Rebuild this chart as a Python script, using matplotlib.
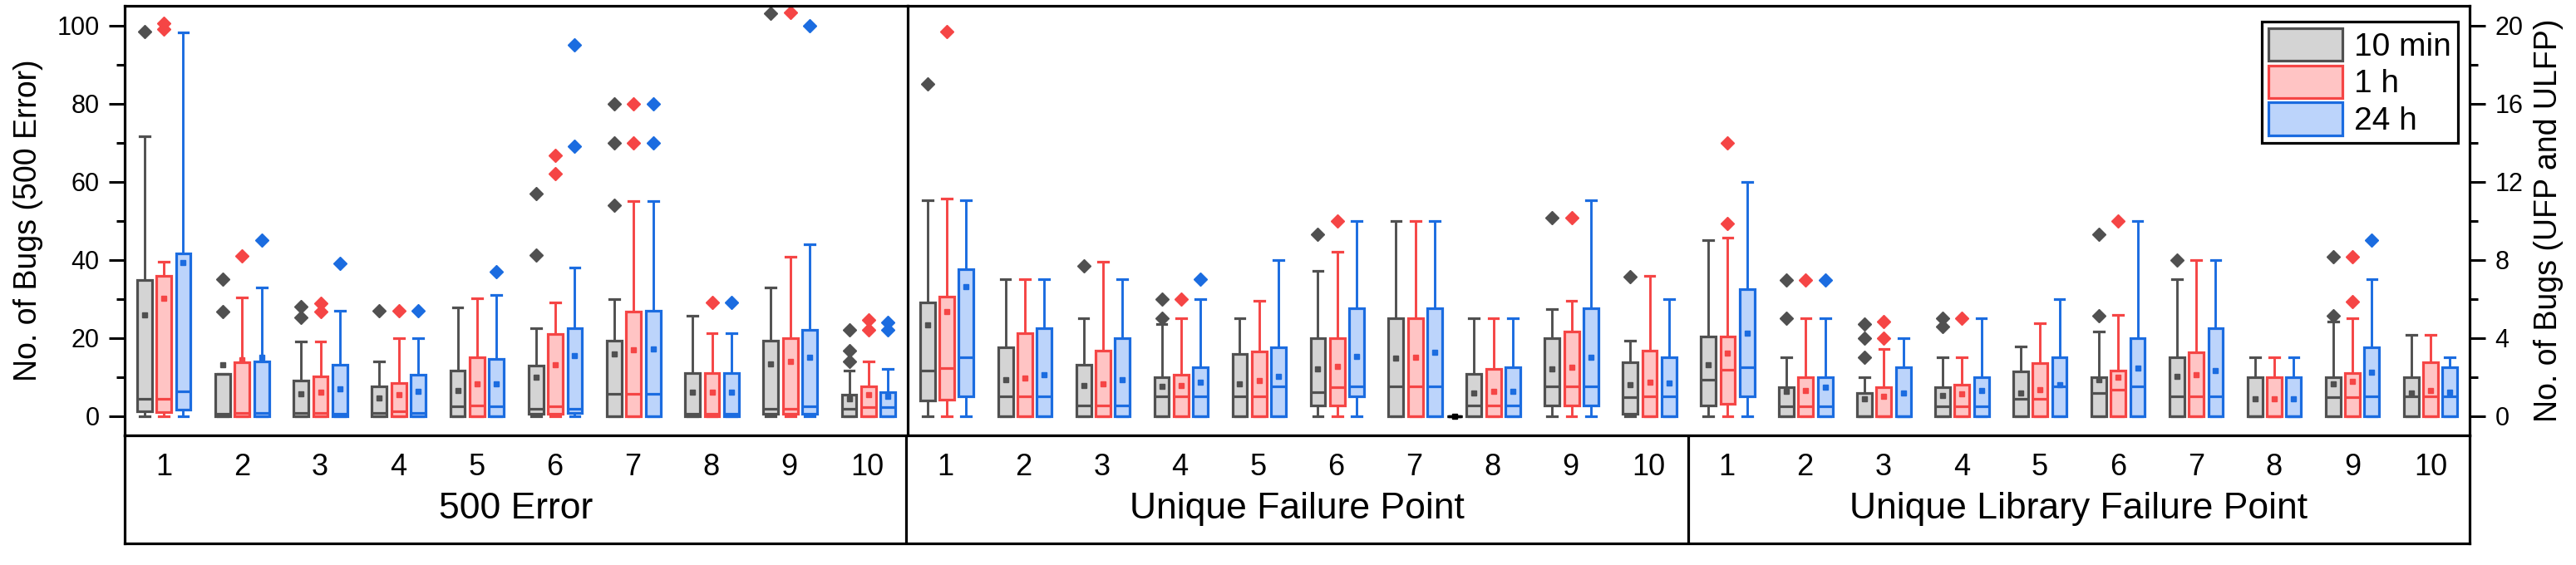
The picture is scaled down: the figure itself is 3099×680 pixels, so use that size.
import numpy as np
import matplotlib.pyplot as plt
from matplotlib.patches import Patch
from matplotlib.ticker import MultipleLocator

# fuente tipo Arial
plt.rcParams['font.family'] = ['Liberation Sans', 'DejaVu Sans']

# nombres de las series y colores (borde, relleno)
series_names = ['10 min', '1 h', '24 h']
edge_colors = ['#505050', '#f54545', '#1b6ce0']
fill_colors = ['#d4d4d4', '#ffc4c4', '#bcd4fb']

panel_names = ['500 Error', 'Unique Failure Point', 'Unique Library Failure Point']
group_labels = [str(i) for i in range(1, 11)]

# cada fila: whislo, q1, mediana, q3, whishi, media
err_gray = [[0, 1.2, 4.4, 34.7, 71.7, 25.9], [0, 0, 0.5, 10.8, 10.8, 13.1], [0, 0, 0.8, 9.0, 19.1, 5.6],
            [0, 0, 0.8, 7.6, 14.0, 4.5], [0, 0, 2.4, 11.5, 27.7, 6.5], [0, 0.5, 1.9, 12.9, 22.5, 9.9],
            [0, 0, 5.7, 19.2, 29.9, 15.9], [0, 0, 0.5, 11.0, 25.7, 6.0], [0, 0.5, 1.9, 19.3, 32.9, 13.4],
            [0, 0, 1.9, 5.5, 11.5, 4.4]]
err_red = [[0, 1.0, 4.4, 35.8, 39.5, 30.1], [0, 0, 0.85, 13.8, 30.4, 14.3], [0, 0, 0.85, 10.1, 19.1, 6.0],
           [0, 0, 1.2, 8.4, 19.9, 5.5], [0, 0, 2.6, 15.0, 30.2, 8.2], [0, 0.5, 2.4, 20.9, 29.1, 13.1],
           [0, 0, 5.7, 26.8, 55.1, 17.0], [0, 0, 0.5, 11.0, 21.1, 6.0], [0, 0.5, 1.9, 20.0, 40.8, 14.0],
           [0, 0, 2.3, 7.6, 14.0, 5.5]]
err_blue = [[0, 1.7, 6.2, 41.7, 98.1, 39.3], [0, 0, 0.85, 14.0, 32.9, 15.0], [0, 0, 0.6, 13.1, 27.0, 7.0],
            [0, 0, 0.85, 10.6, 19.9, 6.2], [0, 0, 2.4, 14.5, 31.0, 8.2], [0, 0.85, 1.9, 22.5, 38.0, 15.5],
            [0, 0, 5.7, 27.0, 55.1, 17.2], [0, 0, 0.5, 11.0, 21.1, 6.0], [0, 0.5, 2.5, 22.1, 44.0, 15.0],
            [0, 0, 2.3, 6.0, 12.1, 4.9]]
err_gray_fl = [[98.4], [35.1, 26.8], [28.0, 25.3], [26.9], [], [41.2, 56.9], [53.9, 69.9, 79.8], [], [103.0],
               [22.1, 16.6, 14.0]]
err_red_fl = [[100.5, 99.0], [41.0], [28.9, 26.8], [26.9], [], [62.0, 66.7], [69.9, 79.8], [29.0], [103.2],
              [24.6, 22.1]]
err_blue_fl = [[], [45.0], [39.0], [26.9], [36.9], [69.1, 95.0], [69.9, 79.8], [29.0], [99.9], [23.9, 22.1]]

ufp_gray = [[0, 0.78, 2.33, 5.81, 11.03, 4.67], [0, 0, 1.02, 3.5, 7.01, 1.85], [0, 0, 0.53, 2.61, 5.02, 1.55],
            [0, 0, 0.99, 1.97, 4.71, 1.49], [0, 0, 0.99, 3.15, 5.02, 1.62], [0, 0.53, 1.23, 4.0, 7.44, 2.4],
            [0, 0, 1.52, 5.02, 9.99, 2.97], [0, 0, 0.53, 2.16, 5.02, 1.19], [0, 0.53, 1.52, 4.0, 5.45, 2.4],
            [0, 0.1, 0.95, 2.73, 3.86, 1.59]]
ufp_red = [[0, 0.84, 2.44, 6.09, 11.14, 5.32], [0, 0, 1.02, 4.22, 7.01, 1.92], [0, 0, 0.53, 3.36, 7.88, 1.63],
           [0, 0, 0.99, 2.09, 5.02, 1.55], [0, 0, 0.99, 3.29, 5.88, 1.8], [0, 0.53, 1.45, 4.0, 8.4, 2.55],
           [0, 0, 1.52, 5.02, 9.99, 3.01], [0, 0, 0.53, 2.41, 5.02, 1.26], [0, 0.53, 1.52, 4.32, 5.88, 2.47],
           [0, 0, 0.99, 3.36, 7.15, 1.73]]
ufp_blue = [[0, 0.99, 3.01, 7.51, 11.03, 6.6], [0, 0, 1.02, 4.5, 7.01, 2.11], [0, 0, 0.53, 4.0, 7.01, 1.85],
            [0, 0, 0.99, 2.51, 5.99, 1.73], [0, 0, 1.52, 3.51, 7.98, 2.04], [0, 0.99, 1.52, 5.49, 9.99, 3.04],
            [0, 0, 1.52, 5.49, 9.99, 3.25], [0, 0, 0.53, 2.51, 5.02, 1.26], [0, 0.53, 1.52, 5.49, 11.03, 3.01],
            [0, 0, 0.99, 3.01, 5.99, 1.66]]
ufp_gray_fl = [[17.02], [], [7.66], [5.96, 5.02], [], [9.28], [], [], [10.13], [7.13]]
ufp_red_fl = [[19.69], [], [], [5.96], [], [9.96], [], [], [10.13], []]
ufp_blue_fl = [[], [], [], [6.98], [], [], [], [], [], []]

ulfp_gray = [[0, 0.52, 1.86, 4.06, 9.0, 2.6], [0, 0, 0.51, 1.48, 3.0, 1.25], [0, 0, 0, 1.15, 1.97, 0.87],
             [0, 0, 0.51, 1.46, 3.0, 1.05], [0, 0, 0.87, 2.29, 3.56, 1.15], [0, 0, 1.18, 2.0, 4.3, 1.83],
             [0, 0, 0.98, 3.0, 7.0, 2.04], [0, 0, 0, 2.0, 3.0, 0.87], [0, 0, 0.94, 2.0, 4.85, 1.65],
             [0, 0, 1.0, 2.0, 4.13, 1.15]]
ulfp_red = [[0, 0.61, 2.36, 4.06, 9.13, 3.2], [0, 0, 0.51, 1.97, 5.01, 1.29], [0, 0, 0, 1.48, 3.42, 0.98],
            [0, 0, 0.51, 1.58, 3.0, 1.12], [0, 0, 0.87, 2.71, 4.73, 1.33], [0, 0, 1.36, 2.31, 5.15, 1.97],
            [0, 0, 0.98, 3.24, 7.96, 2.11], [0, 0, 0, 2.0, 3.0, 0.87], [0, 0, 0.94, 2.21, 5.01, 1.75],
            [0, 0, 0.98, 2.75, 4.13, 1.29]]
ulfp_blue = [[0, 0.98, 2.5, 6.5, 11.98, 4.23], [0, 0, 0.51, 1.97, 5.01, 1.46], [0, 0, 0, 2.5, 3.99, 1.15],
             [0, 0, 0.51, 1.97, 5.01, 1.29], [0, 0, 1.5, 3.0, 5.98, 1.58], [0, 0, 1.53, 3.99, 9.98, 2.43],
             [0, 0, 0.98, 4.51, 7.96, 2.31], [0, 0, 0, 2.0, 3.0, 0.87], [0, 0, 0.98, 3.49, 7.0, 2.24],
             [0, 0, 0.98, 2.5, 3.0, 1.22]]
ulfp_gray_fl = [[], [4.98, 6.97], [3.0, 3.96, 4.7], [4.56, 4.98], [], [5.12, 9.28], [7.96], [], [5.12, 8.15], []]
ulfp_red_fl = [[9.85, 13.97], [6.97], [3.96, 4.82], [4.98], [], [9.98], [], [], [5.83, 8.15], []]
ulfp_blue_fl = [[], [6.97], [], [], [], [], [], [], [8.98], []]

# caja vacia (negra) que aparece entre los grupos 7 y 8 de UFP
stray_pos = [7.5]
stray_rows = [[0, 0, 0, 0, 0, 0]]
stray_fl = [[]]


def make_stats(rows, fliers):
    # arma los diccionarios que pide bxp
    return [dict(whislo=r[0], q1=r[1], med=r[2], q3=r[3], whishi=r[4], mean=r[5], fliers=f)
            for r, f in zip(rows, fliers)]


def draw_boxes(ax, rows, fliers, positions, edge, fill):
    ax.bxp(make_stats(rows, fliers), positions=positions, widths=0.19, capwidths=0.125,
           patch_artist=True, showmeans=True, showfliers=True, manage_ticks=False,
           boxprops=dict(facecolor=fill, edgecolor=edge, linewidth=2.3),
           medianprops=dict(color=edge, linewidth=2.3),
           whiskerprops=dict(color=edge, linewidth=2.1),
           capprops=dict(color=edge, linewidth=2.3),
           meanprops=dict(marker='s', markerfacecolor=edge, markeredgecolor=edge, markersize=5),
           flierprops=dict(marker='D', markerfacecolor=edge, markeredgecolor=edge, markersize=8.5))


fig = plt.figure(figsize=(30.99, 6.8), dpi=100)
x0, x1, x2 = 150 / 3099, 1092 / 3099, 2971 / 3099
yb, yt, ys = 156 / 680, 673 / 680, 26 / 680
ax1 = fig.add_axes([x0, yb, x1 - x0, yt - yb])
ax2 = fig.add_axes([x1, yb, x2 - x1, yt - yb])
ax_s = fig.add_axes([x0, ys, x2 - x0, yb - ys])

off = 0.248
pos10 = np.arange(1, 11)
pos20 = np.arange(1, 21)

err_sets = [(err_gray, err_gray_fl), (err_red, err_red_fl), (err_blue, err_blue_fl)]
ufp_sets = [(ufp_gray, ufp_gray_fl), (ufp_red, ufp_red_fl), (ufp_blue, ufp_blue_fl)]
ulfp_sets = [(ulfp_gray, ulfp_gray_fl), (ulfp_red, ulfp_red_fl), (ulfp_blue, ulfp_blue_fl)]

for k in range(3):
    d = (k - 1) * off
    draw_boxes(ax1, err_sets[k][0], err_sets[k][1], pos10 + d, edge_colors[k], fill_colors[k])
    rows = ufp_sets[k][0] + ulfp_sets[k][0]
    fls = ufp_sets[k][1] + ulfp_sets[k][1]
    draw_boxes(ax2, rows, fls, pos20 + d, edge_colors[k], fill_colors[k])
draw_boxes(ax2, stray_rows, stray_fl, stray_pos, 'black', 'black')

# ejes principales
ax1.set_xlim(0.5, 10.5)
ax1.set_ylim(-5, 105)
ax2.set_xlim(0.5, 20.5)
ax2.set_ylim(-1, 21)
for ax in (ax1, ax2):
    ax.set_xticks([])
    for sp in ax.spines.values():
        sp.set_linewidth(2.3)
# la linea divisoria la pone el eje derecho (se dibuja encima)
ax1.spines['right'].set_visible(False)

ax1.yaxis.set_major_locator(MultipleLocator(20))
ax1.yaxis.set_minor_locator(MultipleLocator(10))
ax1.tick_params(axis='y', which='major', direction='out', length=14, width=2.2, labelsize=22, pad=8)
ax1.tick_params(axis='y', which='minor', direction='out', length=7, width=2.2)
ax1.set_ylabel('No. of Bugs (500 Error)', fontsize=27)
ax1.yaxis.set_label_coords(-0.104, 0.5)

ax2.yaxis.tick_right()
ax2.yaxis.set_label_position('right')
ax2.yaxis.set_major_locator(MultipleLocator(4))
ax2.yaxis.set_minor_locator(MultipleLocator(2))
ax2.tick_params(axis='y', which='major', direction='out', length=14, width=2.2, labelsize=22, pad=8)
ax2.tick_params(axis='y', which='minor', direction='out', length=7, width=2.2)
ax2.set_ylabel('No. of Bugs (UFP and ULFP)', fontsize=27)
ax2.yaxis.set_label_coords(1.041, 0.5)

# leyenda
handles = [Patch(facecolor=fill_colors[k], edgecolor=edge_colors[k], linewidth=2.3) for k in range(3)]
leg = ax2.legend(handles, series_names, loc='upper right', bbox_to_anchor=(0.9925, 0.963),
                 borderaxespad=0, fontsize=28, handlelength=2.3, handleheight=1.18,
                 labelspacing=0.1, handletextpad=0.37, borderpad=0.2, fancybox=False,
                 framealpha=1, edgecolor='black')
leg.get_frame().set_linewidth(2.3)

# franja de categorias abajo
ax_s.set_xlim(0, 30)
ax_s.set_ylim(0, 1)
ax_s.set_xticks([])
ax_s.set_yticks([])
for sp in ax_s.spines.values():
    sp.set_linewidth(2.3)
for b in (10, 20):
    ax_s.axvline(b, color='black', linewidth=2.3)
for p, name in enumerate(panel_names):
    for i, lab in enumerate(group_labels):
        ax_s.text(p * 10 + i + 0.5, 0.70, lab, ha='center', va='center', fontsize=26)
    ax_s.text(p * 10 + 5, 0.32, name, ha='center', va='center', fontsize=32)

fig.savefig('out.png', dpi=100)
